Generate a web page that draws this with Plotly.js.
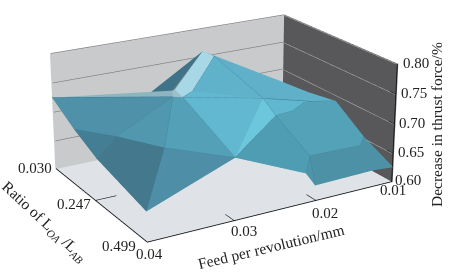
<!DOCTYPE html>
<html><head><meta charset="utf-8">
<script src="https://cdn.plot.ly/plotly-3.0.1.min.js"></script>
<style>html,body{margin:0;padding:0;width:455px;height:279px;overflow:hidden;background:#fff}
#wrap{position:absolute;left:0;top:0;width:455px;height:279px;overflow:hidden}
#plot{position:absolute;left:-688px;top:-440px;width:1820px;height:1116px}</style>
</head><body><div id="wrap"><div id="plot"></div></div>
<script>
const feedTicks=[0.04,0.03,0.02,0.01];
const feedLabels=['0.04','0.03','0.02','0.01'];
const ratioTicks=[0.03,0.247,0.499];
const ratioLabels=['0.030','0.247','0.499'];
const forceTicks=[0.6,0.65,0.7,0.75,0.8];
const forceLabels=['0.60','0.65','0.70','0.75','0.80'];
const vu=[0,0,0,0,0.335,0.62,0.66,0.91,1,1,1,1,1,0.32,0.63,0.66,0.33,0.34,0.3,0.34,0.42,0.167,0.167,0.72,0.73,0.83,0.93,0.71,0.93,0.965];
const vv=[0,0.25,0.5,1,1,1,1,1,1,0.75,0.5,0.25,0,0,0,0.05,0.42,0.42,0.5,0.5,0.4,0.25,0.75,0.4,0.5,0.45,0.35,0.85,0.85,0.35];
const vz=[0.725,0.697,0.675,0.65,0.703,0.651,0.627,0.629,0.626,0.652,0.689,0.68,0.675,0.682,0.759,0.752,0.752,0.753,0.752,0.748,0.742,0.67,0.706,0.706,0.685,0.68,0.677,0.655,0.653,0.676];
const vx=vu.map(u=>0.04-0.03*u), vy=vv.map(v=>0.03+0.469*v);
const c1='#4e91a8',c2='#437e94',c3='#44788c',c4='#5198ae',c5='#53a0b7',c6='#4e8ea6',c7='#62b8d0',c8='#6cc6dc',c9='#5fb2ca',c10='#a8d8e6',c11='#6e8088',c12='#3f7488',c13='#a0bec8',c14='#8db5c0',c15='#5fb0c8',c16='#60b8d0',c17='#53a2b8',c18='#4f9db3',c19='#4d95aa',c20='#4c91a5';
const tris=[[0,18,21,c1],[0,21,1,c1],[1,21,2,c2],[2,21,22,c3],[2,22,3,c3],[21,18,22,c4],[22,18,19,c5],[22,19,4,c5],[3,22,4,c6],
[19,23,4,c7],[23,24,4,c8],[20,15,23,c9],[19,20,23,c7],[17,14,15,c10],[17,15,20,c10],[17,20,19,c10],[16,14,17,c11],[13,14,16,c12],[18,16,19,c13],[16,17,19,c13],[0,16,18,c14],[0,13,16,c12],
[14,12,15,c15],[15,12,11,c15],[15,11,29,c15],[15,29,23,c15],[11,10,29,c15],[23,29,26,c16],[23,26,25,c16],[23,25,24,c16],
[24,25,27,c17],[25,26,27,c17],[26,29,27,c17],[29,10,27,c17],[10,28,27,c17],[10,9,28,c17],[4,24,27,c18],[4,27,5,c18],[5,27,6,c19],
[27,28,7,c20],[27,7,6,c20],[28,9,8,c20],[28,8,7,c20]];
const edges=[[0,18],[1,21],[21,22],[22,4],[2,21],[21,18],[3,22],[22,18],[19,4],[19,23],[23,24],[24,27],[27,6],[4,24],[5,27],[23,29],[29,10],[24,25],[25,26],[26,29],[27,28],[28,9],[15,23],[19,20],[15,20]];
const ex=[],ey=[],ez=[];
edges.forEach(e=>{ex.push(vx[e[0]],vx[e[1]],null);ey.push(vy[e[0]],vy[e[1]],null);ez.push(vz[e[0]],vz[e[1]],null)});
function line(xs,ys,zs,color,w){return {type:'scatter3d',mode:'lines',x:xs,y:ys,z:zs,line:{color:color,width:w},hoverinfo:'skip'}}
const data=[{type:'mesh3d',x:vx,y:vy,z:vz,i:tris.map(t=>t[0]),j:tris.map(t=>t[1]),k:tris.map(t=>t[2]),facecolor:tris.map(t=>t[3]),flatshading:true,lighting:{ambient:1,diffuse:0,specular:0,roughness:1,fresnel:0},hoverinfo:'skip'},
line(ex,ey,ez,'#3f7f95',1.2)];
const gx=[],gy=[],gz=[],hx=[],hy=[],hz=[];
forceTicks.slice(1).forEach(f=>{gx.push(0.0399,0.0101,null);gy.push(0.032,0.032,null);gz.push(f,f,null);hx.push(0.0102,0.0102,null);hy.push(0.031,0.498,null);hz.push(f,f,null)});
data.push(line(gx,gy,gz,'#77777a',1.2),line(hx,hy,hz,'#a8a8aa',1.2));
const fe=0.03992, fy=0.4975, fz=0.6008, fr=0.01008;
data.push(line([fe,fe,fr,fr],[0.0305,fy,fy,fy],[fz,fz,fz,0.7995],'#111',1.6));
const tx=[],ty=[],tz=[];
feedTicks.slice(1,3).forEach(f=>{tx.push(f,f,null);ty.push(fy,0.46,null);tz.push(fz,fz,null)});
tx.push(fe,0.0375,null);ty.push(0.247,0.247,null);tz.push(fz,fz,null);
forceTicks.slice(1,4).forEach(f=>{tx.push(fr,fr,null);ty.push(fy,0.475,null);tz.push(f,f,null)});
data.push(line(tx,ty,tz,'#111',1.2));
const fnt={family:'"Liberation Serif",serif',size:15,color:'#222'};
const shiftR=[[-20,1],[-21,-3],[-28,-3]], shiftF=[[3,-11],[9,-10],[9,-12],[0,-8]];
const shiftZ=[[15,2],[17,1],[17,1],[17,1],[18,1]];
const ann=[];
ratioTicks.forEach((r,i)=>ann.push({x:0.04,y:i===0?r+1e-4:r,z:0.6,text:ratioLabels[i],showarrow:false,font:fnt,xshift:shiftR[i][0],yshift:shiftR[i][1]}));
feedTicks.forEach((f,i)=>ann.push({x:f,y:0.499,z:0.6,text:feedLabels[i],showarrow:false,font:fnt,xshift:shiftF[i][0],yshift:shiftF[i][1]}));
forceTicks.forEach((f,i)=>ann.push({x:0.01,y:0.499,z:f,text:forceLabels[i],showarrow:false,font:fnt,xshift:shiftZ[i][0],yshift:shiftZ[i][1]}));
const W=1820,H=1116,L=-688,T=-440;
function paper(px,py,text,angle){return {xref:'paper',yref:'paper',x:(px-L)/W,y:1-(py-T)/H,text:text,textangle:angle,showarrow:false,font:{family:'"Liberation Serif",serif',size:15.5,color:'#222'}}}
const titles=[paper(436,125,'Decrease in thrust force/%',-90),paper(271,246,'Feed per revolution/mm',-13.5),paper(44,221,'Ratio of L<sub><i>OA</i></sub> /L<sub><i>AB</i></sub>',43)];
const ax={showgrid:false,zeroline:false,showticklabels:false,ticks:'',showspikes:false,showbackground:true,showline:false,title:{text:''}};
Plotly.newPlot('plot',data,{width:W,height:H,margin:{l:0,r:0,t:0,b:0},paper_bgcolor:'#fff',showlegend:false,annotations:titles,
scene:{domain:{x:[0,1],y:[0,1]},aspectmode:'manual',aspectratio:{x:1,y:0.733,z:0.449},annotations:ann,
camera:{eye:{x:2.31,y:3.92,z:1.68},center:{x:0,y:0,z:0},up:{x:0,y:0,z:1}},
xaxis:Object.assign({},ax,{range:[0.01,0.04],backgroundcolor:'#58585a'}),
yaxis:Object.assign({},ax,{range:[0.03,0.499],backgroundcolor:'#c8cacc'}),
zaxis:Object.assign({},ax,{range:[0.6,0.8],backgroundcolor:'#dfe3e8'})}},{displayModeBar:false});
</script></body></html>
